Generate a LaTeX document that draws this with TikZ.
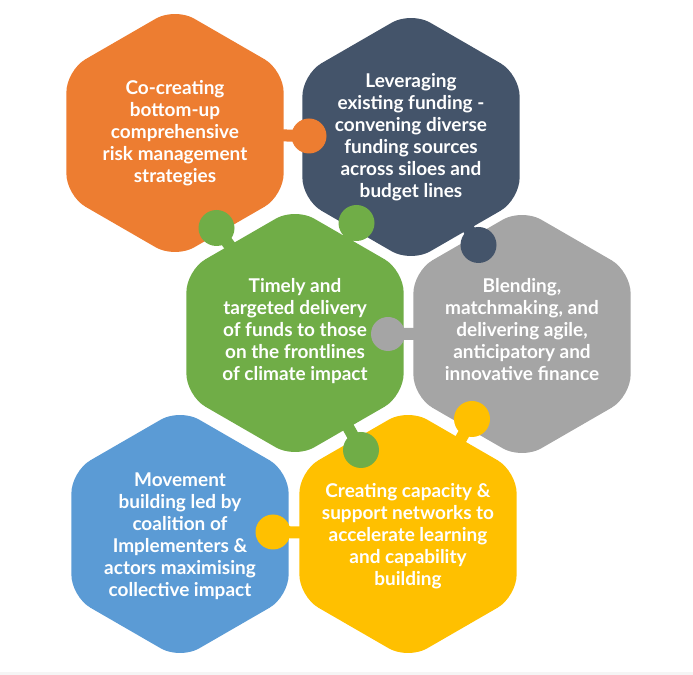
\documentclass[tikz,border=0pt]{standalone}
\usepackage{fontspec}
\setmainfont{Lato}
\usepackage{xcolor}
\usepackage{tikz}
\usetikzlibrary{calc, shapes.geometric}

\definecolor{hexorange}{HTML}{ED7D31}
\definecolor{hexnavy}{HTML}{44546A}
\definecolor{hexgreen}{HTML}{70AD47}
\definecolor{hexgray}{HTML}{A5A5A5}
\definecolor{hexblue}{HTML}{5B9BD5}
\definecolor{hexyellow}{HTML}{FFC000}

\begin{document}
\begin{tikzpicture}[x=0.025cm, y=0.025cm,
    hex/.style={regular polygon, regular polygon sides=6, shape border rotate=30,
        minimum size=6.27cm, inner sep=0pt, rounded corners=0.55cm, fill=#1},
    hextext/.style={text=white, align=center, inner sep=0pt,
        font=\bfseries\fontsize{13.5}{15.6}\selectfont},
    neck/.style={draw=#1, line width=0.3cm},
    knob/.style={fill=#1}]
    \useasboundingbox (0,0) rectangle (693,-675);
    % Vẽ dải xám ở đáy
    \fill[gray!8] (0,-672) rectangle (693,-675);

    % Vẽ các lục giác
    \node[hex=hexorange] (cocreate) at (175,-133) {};
    \node[hex=hexnavy] (leverage) at (411,-137) {};
    \node[hex=hexgreen] (timely) at (295,-333) {};
    \node[hex=hexgray] (blend) at (522,-334) {};
    \node[hex=hexblue] (movement) at (180,-534) {};
    \node[hex=hexyellow] (capacity) at (408,-534) {};

    % Chữ trong các lục giác
    \node[hextext] (cocreatetxt) at (cocreate)
        {Co-creating\\bottom-up\\comprehensive\\risk management\\strategies};
    \node[hextext] (leveragetxt) at (leverage)
        {Leveraging\\existing funding -\\convening diverse\\funding sources\\across siloes and\\budget lines};
    \node[hextext] (timelytxt) at ([yshift=0.05cm]timely)
        {Timely and\\targeted delivery\\of funds to those\\on the frontlines\\of climate impact};
    \node[hextext] (blendtxt) at ([yshift=0.12cm]blend)
        {Blending,\\matchmaking, and\\delivering agile,\\anticipatory and\\innovative finance};
    \node[hextext] (movementtxt) at ([yshift=-0.05cm]movement)
        {Movement\\building led by\\coalition of\\Implementers \&\\actors maximising\\collective impact};
    \node[hextext] (capacitytxt) at ([yshift=-0.05cm]capacity)
        {Creating capacity \&\\support networks to\\accelerate learning\\and capability\\building};

    % Các chốt nối
    \coordinate (k1) at (309,-136);
    \coordinate (k2) at (216.5,-228);
    \coordinate (k3) at (356.5,-223);
    \coordinate (k4) at (478.5,-245);
    \coordinate (k5) at (388,-334);
    \coordinate (k6) at (472,-419);
    \coordinate (k7) at (361,-450);
    \coordinate (k8) at (273,-532);

    \draw[neck=hexorange] ($(cocreate.center)!0.75!(k1)$) -- (k1);
    \fill[knob=hexorange] (k1) circle (17.5);
    \draw[neck=hexgreen] ($(timely.center)!0.75!(k2)$) -- (k2);
    \fill[knob=hexgreen] (k2) circle (18);
    \draw[neck=hexgreen] ($(timely.center)!0.75!(k3)$) -- (k3);
    \fill[knob=hexgreen] (k3) circle (18);
    \draw[neck=hexnavy] ($(leverage.center)!0.75!(k4)$) -- (k4);
    \fill[knob=hexnavy] (k4) circle (18);
    \draw[neck=hexgray] ($(blend.center)!0.75!(k5)$) -- (k5);
    \fill[knob=hexgray] (k5) circle (17);
    \draw[neck=hexyellow] ($(capacity.center)!0.75!(k6)$) -- (k6);
    \fill[knob=hexyellow] (k6) circle (18);
    \draw[neck=hexgreen] ($(timely.center)!0.75!(k7)$) -- (k7);
    \fill[knob=hexgreen] (k7) circle (18);
    \draw[neck=hexyellow] ($(capacity.center)!0.75!(k8)$) -- (k8);
    \fill[knob=hexyellow] (k8) circle (17.5);
\end{tikzpicture}
\end{document}
